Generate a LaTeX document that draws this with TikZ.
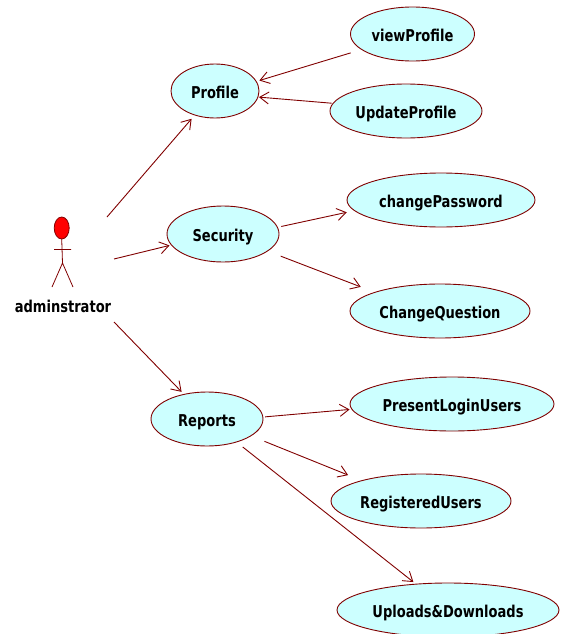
\documentclass[tikz,border=0pt]{standalone}
\usepackage{fontspec}
\setmainfont{DejaVu Sans}[FakeStretch=0.8]
\usetikzlibrary{shapes.geometric,arrows.meta}
\definecolor{umlline}{HTML}{800000}
\definecolor{umlfill}{HTML}{CCFFFF}
\tikzset{
  x=1pt,y=-1pt,
  usecase/.style={ellipse,draw=umlline,fill=umlfill,line width=0.9pt,inner sep=0pt,outer sep=0pt,
    minimum height=54pt,font=\fontsize{16.3}{18}\selectfont\bfseries,text=black,text height=14.5pt,text depth=0pt},
  conn/.style={draw=umlline,line width=0.9pt,-{Straight Barb[length=9pt,width=12pt,line width=0.9pt]}},
  stick/.style={draw=umlline,line width=0.8pt},
}
\begin{document}
\begin{tikzpicture}
\useasboundingbox (0,0) rectangle (560,634);
% use cases
\node[usecase,minimum width=124pt] (view) at (412.5,34) {viewProfile};
\node[usecase,minimum width=152pt] (update) at (406,111) {UpdateProfile};
\node[usecase,minimum width=88pt] (profile) at (215,91) {Profile};
\node[usecase,minimum width=112pt,minimum height=56pt] (security) at (223,234) {Security};
\node[usecase,minimum width=188pt] (password) at (441,200) {changePassword};
\node[usecase,minimum width=180pt] (question) at (440,311) {ChangeQuestion};
\node[usecase,minimum width=112pt] (reports) at (207,419) {Reports};
\node[usecase,minimum width=204pt] (present) at (452,404) {PresentLoginUsers};
\node[usecase,minimum width=180pt] (registered) at (421,501) {RegisteredUsers};
\node[usecase,minimum width=222pt] (uploads) at (448,610) {Uploads\&Downloads};
% actor
\node[ellipse,draw=umlline,fill=red,line width=0.8pt,inner sep=0pt,outer sep=0pt,minimum width=15pt,minimum height=22pt] (actor) at (61.7,228) {};
\coordinate (neck) at (62.5,263);
\coordinate (armL) at (54,249.5);
\coordinate (armR) at (71,249.5);
\coordinate (legL) at (52,287);
\coordinate (legR) at (73,287);
\draw[stick] (actor.south) -- (neck) (armL) -- (armR) (legL) -- (neck) -- (legR);
\node[font=\fontsize{16.3}{18}\selectfont\bfseries,inner sep=0pt,text height=14.5pt,text depth=0pt] (actorlabel) at (63,305) {adminstrator};
\coordinate (a1) at (107,217);
\coordinate (a2) at (114,259);
\coordinate (a3) at (114,322);
% connectors
\draw[conn,shorten <=11.6pt,shorten >=3.3pt] (view.197.3) -- (profile.13.9);
\draw[conn,shorten <=1.5pt,shorten >=1.1pt] (update.174.6) -- (profile.352.2);
\draw[conn,shorten >=5pt] (a1) -- (profile.230.9);
\draw[conn,shorten >=2pt] (a2) -- (security.192.7);
\draw[conn,shorten <=4pt,shorten >=8pt] (security.7.6) -- (password.187.7);
\draw[conn,shorten <=14.2pt,shorten >=15.2pt] (security.339.4) -- (question.164.4);
\draw[conn,shorten >=3.5pt] (a3) -- (reports.133.9);
\draw[conn,shorten <=2.3pt,shorten >=2.4pt] (reports.2.9) -- (present.183.3);
\draw[conn,shorten <=14.7pt,shorten >=14.8pt] (reports.339.7) -- (registered.161);
\draw[conn,shorten <=8.1pt,shorten >=3.4pt] (reports.322.2) -- (uploads.141.4);
\end{tikzpicture}
\end{document}
